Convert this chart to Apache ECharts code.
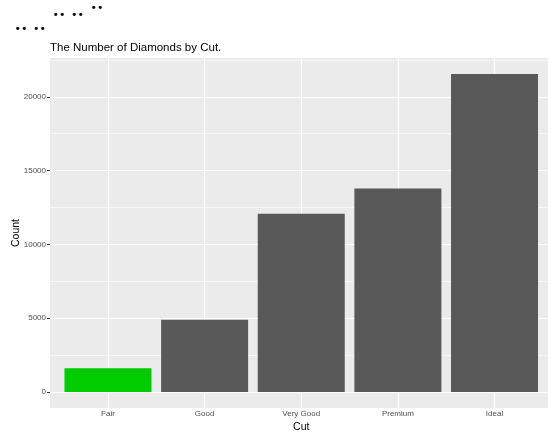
<!DOCTYPE html>
<html>
<head>
<meta charset="utf-8">
<script src="https://cdn.jsdelivr.net/npm/echarts@6/dist/echarts.min.js"></script>
<style>html,body{margin:0;padding:0;background:#fff}#c{width:548px;height:432px}</style>
</head>
<body>
<div id="c"></div>
<script>
// ---- data ----
const categories = ['Fair', 'Good', 'Very Good', 'Premium', 'Ideal'];
const counts = [1610, 4906, 12082, 13791, 21551];
const yTicks = [0, 5000, 10000, 15000, 20000];
const yMinor = [2500, 7500, 12500, 17500, 22500];
const highlightCategory = 'Fair';

const chart = echarts.init(document.getElementById('c'), null, {renderer: 'canvas'});
const xPos = categories.map((c, i) => i + 1);
const yMax = Math.max(...counts);
const pad = yMax * 0.05;
const FONT = 'Liberation Sans';

const barData = categories.map((c, i) => ({
  value: [i + 1, counts[i]],
  itemStyle: {color: c === highlightCategory ? '#00CC00' : '#595959'}
}));

const dotGroups = [[14.5, 29], [33, 29], [52.5, 15.5], [71, 15.5], [90.5, 8.3]];

chart.setOption({
  animation: false,
  title: {
    text: 'The Number of Diamonds by Cut.',
    left: 50, top: 42, padding: 0,
    textStyle: {fontFamily: FONT, fontSize: 11.5, fontWeight: 'normal', color: '#000'}
  },
  graphic: dotGroups.map(p => ({
    type: 'text', x: p[0], y: p[1],
    style: {text: '••', fontFamily: 'DejaVu Sans', fontSize: 11, fill: '#000', verticalAlign: 'middle', align: 'left'}
  })),
  grid: {left: 50, right: -4.5, top: 58, bottom: 24, show: true, backgroundColor: '#EBEBEB', borderWidth: 0,
         containLabel: false, outerBoundsMode: 'none'},
  xAxis: {
    type: 'value', min: 0.4, max: 5.6,
    name: 'Cut', nameLocation: 'middle', nameGap: 14, nameMoveOverlap: false,
    nameTextStyle: {fontFamily: FONT, fontSize: 10.5, color: '#000'},
    axisLine: {show: false},
    axisTick: {show: true, customValues: xPos, length: 3, lineStyle: {color: '#333', width: 1}},
    axisLabel: {customValues: xPos, formatter: v => categories[Math.round(v) - 1], fontFamily: FONT, fontSize: 8, color: '#4D4D4D', margin: 2},
    splitLine: {show: false}
  },
  yAxis: {
    type: 'value', min: -pad, max: yMax + pad,
    name: 'Count', nameLocation: 'middle', nameGap: 28, nameRotate: 90, nameMoveOverlap: false,
    nameTextStyle: {fontFamily: FONT, fontSize: 10.5, color: '#000'},
    axisLine: {show: false},
    axisTick: {show: true, customValues: yTicks, length: 3, lineStyle: {color: '#333', width: 1}},
    axisLabel: {customValues: yTicks, formatter: v => String(v), fontFamily: FONT, fontSize: 8, color: '#4D4D4D', margin: 4},
    splitLine: {show: false}
  },
  series: [
    {
      type: 'line', data: [], z: 1, silent: true,
      markLine: {
        z: 1, silent: true, symbol: 'none', label: {show: false}, animation: false,
        data: [
          ...yMinor.map(v => ({yAxis: v, lineStyle: {color: '#fff', width: 0.6, type: 'solid'}})),
          ...yTicks.map(v => ({yAxis: v, lineStyle: {color: '#fff', width: 1.2, type: 'solid'}})),
          ...xPos.map(v => ({xAxis: v, lineStyle: {color: '#fff', width: 1.2, type: 'solid'}}))
        ]
      }
    },
    {
      type: 'bar', z: 3, barWidth: 87, data: barData
    }
  ]
});
</script>
</body>
</html>
